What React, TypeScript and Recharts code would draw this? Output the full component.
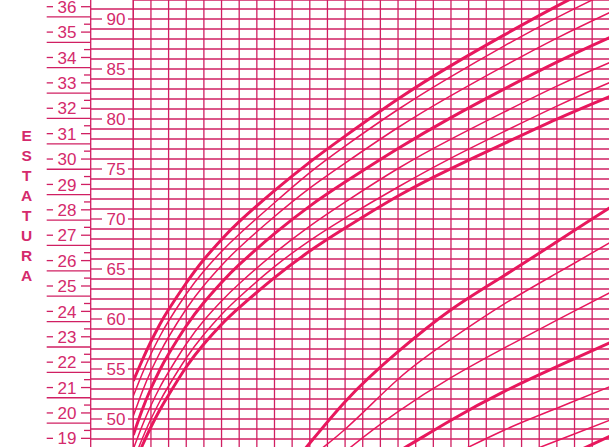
import { ComposedChart, Line, XAxis, YAxis, CartesianGrid } from 'recharts';

// length-for-age (cm), months 0..29
const LEN_MONTHS = [0, 0.5, 1, 1.5, 2, 3, 4, 5, 6, 8, 10, 12, 15, 18, 21, 24, 27, 29];
const LEN_P5 = [45.2, 47.3, 49.2, 50.9, 52.4, 55.2, 57.5, 59.45, 61.13, 64.13, 66.79, 69.09, 72.3, 75.04, 77.54, 79.99, 82.25, 83.7];
const LEN_P10 = [45.8, 48.0, 50.0, 51.75, 53.3, 56.1, 58.45, 60.45, 62.18, 65.23, 67.84, 70.09, 73.2, 76.09, 78.74, 81.29, 83.65, 85.0];
const LEN_P25 = [47.0, 49.3, 51.35, 53.15, 54.7, 57.5, 59.85, 61.8, 63.53, 66.58, 69.29, 71.69, 75.05, 77.99, 80.69, 83.29, 85.65, 87.1];
const LEN_P50 = [48.4, 50.9, 53.05, 54.9, 56.5, 59.3, 61.65, 63.65, 65.43, 68.53, 71.29, 73.69, 77.05, 80.14, 82.99, 85.69, 88.15, 89.7];
const LEN_P75 = [50.3, 52.7, 54.8, 56.6, 58.2, 61.0, 63.35, 65.35, 67.13, 70.25, 73.09, 75.59, 79.15, 82.34, 85.29, 88.09, 90.65, 92.3];
const LEN_P90 = [52.3, 54.5, 56.5, 58.25, 59.8, 62.5, 64.8, 66.75, 68.48, 71.63, 74.64, 77.29, 80.95, 84.24, 87.29, 90.14, 92.75, 94.4];
const LEN_P95 = [53.8, 55.85, 57.75, 59.45, 60.95, 63.6, 65.95, 67.95, 69.73, 72.83, 75.69, 78.29, 82.0, 85.34, 88.39, 91.29, 93.95, 95.6];

// weight-for-age (kg), lower right
const WT_MONTHS = [6, 9, 12, 15, 18, 21, 24, 27, 29];
const WT_P5 = [6.45, 7.45, 8.15, 8.7, 9.2, 9.65, 10.12, 10.61, 10.95];
const WT_P10 = [6.7, 7.75, 8.55, 9.15, 9.65, 10.1, 10.52, 10.93, 11.2];
const WT_P25 = [7.1, 8.2, 9.05, 9.7, 10.22, 10.73, 11.17, 11.6, 11.88];
const WT_P50 = [7.6, 8.75, 9.65, 10.3, 10.93, 11.5, 12.0, 12.48, 12.8];
const WT_P75 = [8.15, 9.35, 10.3, 11.1, 11.78, 12.37, 12.93, 13.48, 13.85];
const WT_P90 = [8.65, 9.85, 10.75, 11.75, 12.55, 13.25, 13.87, 14.48, 14.88];
const WT_P95 = [8.9, 10.05, 11.3, 12.3, 13.14, 13.82, 14.5, 15.18, 15.6];

const MONTH_MAX = 28.71;
const MONTH_TICKS = Array.from({ length: 29 }, (_, i) => i);
const CM_TICKS = Array.from({ length: 44 }, (_, i) => 48 + i);
const IN_TICKS = Array.from({ length: 18 }, (_, i) => 19 + i);

const GRID = '#d01f62';
const CURVE = '#e8175d';
const TEXT = '#d42a6c';
const FONT = '"Liberation Sans", Arial, sans-serif';

const toPoints = (months: number[], vals: number[]) => months.map((m, i) => ({ m, v: vals[i] }));

const lengthSeries = [
  { id: 'p95', vals: LEN_P95, bold: true },
  { id: 'p90', vals: LEN_P90, bold: false },
  { id: 'p75', vals: LEN_P75, bold: false },
  { id: 'p50', vals: LEN_P50, bold: true },
  { id: 'p25', vals: LEN_P25, bold: false },
  { id: 'p10', vals: LEN_P10, bold: false },
  { id: 'p5', vals: LEN_P5, bold: true },
];

const weightSeries = [
  { id: 'w95', vals: WT_P95, bold: true },
  { id: 'w90', vals: WT_P90, bold: false },
  { id: 'w75', vals: WT_P75, bold: false },
  { id: 'w50', vals: WT_P50, bold: true },
  { id: 'w25', vals: WT_P25, bold: false },
  { id: 'w10', vals: WT_P10, bold: false },
  { id: 'w5', vals: WT_P5, bold: true },
];

function CmTick({ y, payload }: any) {
  const v = payload.value;
  if (v % 5 === 0) {
    return (
      <g>
        <line x1={90.7} x2={102} y1={y} y2={y} stroke={GRID} strokeWidth={1.3} />
        <text x={116} y={y} dy="0.36em" textAnchor="middle" fill={TEXT} fontSize={17} fontFamily={FONT}>{v}</text>
        <line x1={128} x2={133.3} y1={y} y2={y} stroke={GRID} strokeWidth={1.3} />
      </g>
    );
  }
  return <line x1={90.7} x2={133.3} y1={y} y2={y} stroke={GRID} strokeWidth={1.3} />;
}

function InTick({ y, payload }: any) {
  const v = payload.value;
  return (
    <g>
      <line x1={46.7} x2={53} y1={y} y2={y} stroke={GRID} strokeWidth={1.3} />
      <text x={67} y={y} dy="0.36em" textAnchor="middle" fill={TEXT} fontSize={17} fontFamily={FONT}>{v}</text>
      <line x1={81} x2={90.7} y1={y} y2={y} stroke={GRID} strokeWidth={1.3} />
      <line x1={46.7} x2={90.7} y1={y + 10.2} y2={y + 10.2} stroke={GRID} strokeWidth={1.3} />
      <line x1={84} x2={90.7} y1={y + 17.5} y2={y + 17.5} stroke={GRID} strokeWidth={1.3} />
    </g>
  );
}

// vertical grid line per month, through the x axis scale when it is available
const monthLines = ({ xAxis, offset }: any) => {
  const s = xAxis?.scale;
  if (typeof s === 'function') return MONTH_TICKS.map((m) => s(m));
  if (s && typeof s.map === 'function') return MONTH_TICKS.map((m) => s.map(m));
  return MONTH_TICKS.map((m) => offset.left + (m / MONTH_MAX) * offset.width);
};

export default function App() {
  return (
    <div style={{ position: 'absolute', left: 0, top: 0, width: 609, height: 447, overflow: 'hidden', background: '#fff' }}>
      <ComposedChart width={640} height={470} margin={{ top: 0, right: 0, bottom: 0, left: 46.7 }}>
        <CartesianGrid yAxisId="cm" stroke={GRID} strokeWidth={1.3} verticalCoordinatesGenerator={monthLines} />
        <XAxis dataKey="m" type="number" domain={[0, MONTH_MAX]} ticks={MONTH_TICKS} interval={0} height={0} tick={false} axisLine={false} tickLine={false} allowDataOverflow />
        <YAxis yAxisId="cm" orientation="left" width={42.6} type="number" domain={[44.9, 91.9]} ticks={CM_TICKS} interval={0} tick={<CmTick />} tickLine={false} axisLine={{ stroke: GRID, strokeWidth: 1.3 }} allowDataOverflow />
        <YAxis yAxisId="in" orientation="left" width={44} type="number" domain={[17.753, 36.264]} ticks={IN_TICKS} interval={0} tick={<InTick />} tickLine={false} axisLine={{ stroke: GRID, strokeWidth: 1.3 }} allowDataOverflow />
        <YAxis yAxisId="border" orientation="left" width={0} type="number" domain={[0, 1]} tick={false} tickLine={false} axisLine={{ stroke: GRID, strokeWidth: 1.3 }} />
        <YAxis yAxisId="kg" hide type="number" domain={[9.934, 19.334]} allowDataOverflow />
        {lengthSeries.map((s) => (
          <Line key={s.id} yAxisId="cm" data={toPoints(LEN_MONTHS, s.vals)} dataKey="v" type="natural" stroke={CURVE} strokeWidth={s.bold ? 3 : 1.5} dot={false} activeDot={false} isAnimationActive={false} />
        ))}
        {weightSeries.map((s) => (
          <Line key={s.id} yAxisId="kg" data={toPoints(WT_MONTHS, s.vals)} dataKey="v" type="natural" stroke={CURVE} strokeWidth={s.bold ? 3 : 1.5} dot={false} activeDot={false} isAnimationActive={false} />
        ))}
      </ComposedChart>
      <div style={{ position: 'absolute', left: 0, top: 126, width: 53.4, textAlign: 'center', color: TEXT, fontFamily: FONT, fontWeight: 'bold', fontSize: 15.5, lineHeight: '20px' }}>
        {'ESTATURA'.split('').map((c, i) => (
          <div key={i}>{c}</div>
        ))}
      </div>
    </div>
  );
}
